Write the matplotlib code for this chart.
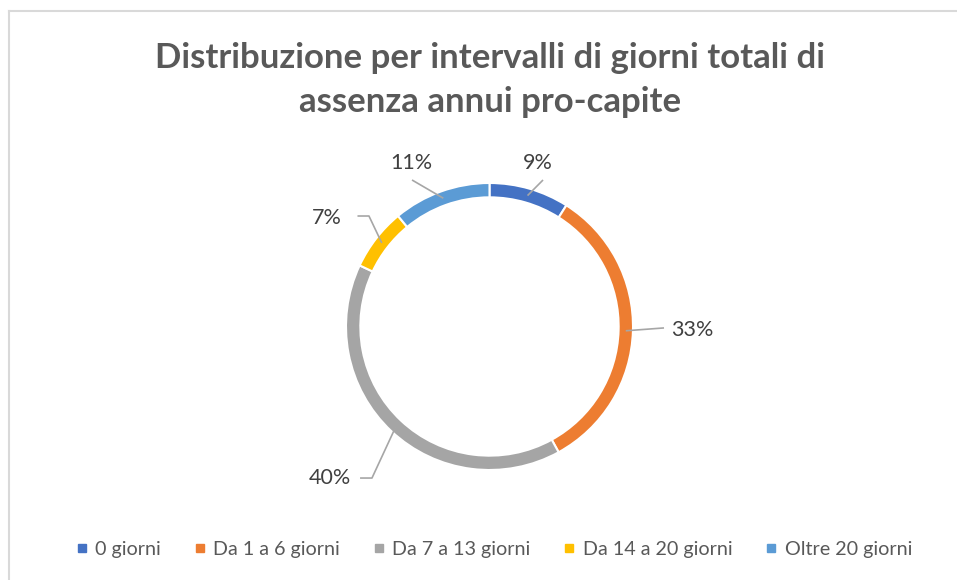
import numpy as np
import matplotlib
matplotlib.use("Agg")
import matplotlib.pyplot as plt
from matplotlib.lines import Line2D

# ── Data ──────────────────────────────────────────────────────────────────────
categories = ["0 giorni", "Da 1 a 6 giorni", "Da 7 a 13 giorni",
              "Da 14 a 20 giorni", "Oltre 20 giorni"]
values = [9, 33, 40, 7, 11]
colors = ["#4472C4", "#ED7D31", "#A5A5A5", "#FFC000", "#5B9BD5"]

title_lines = ["Distribuzione per intervalli di giorni totali di",
               "assenza annui pro-capite"]

# label layout (text position, knee of leader line, optional horizontal stub end)
label_pos = [(0.338, 1.139), (1.411, -0.024), (-1.111, -1.056),
             (-1.132, 0.756), (-0.547, 1.139)]
label_knee = [(0.373, 1.021), (1.216, -0.010), (-0.819, -1.056),
              (-0.840, 0.770), (-0.540, 1.021)]
label_stub = [None, None, (-0.902, -1.056), (-0.920, 0.770), None]

plt.rcParams['font.family'] = ['Lato', 'DejaVu Sans']

W, H = 957, 580
fig = plt.figure(figsize=(W / 100, H / 100), dpi=100)

# chart border (top + left visible)
fig.add_artist(Line2D([9 / W, 1], [1 - 11 / H, 1 - 11 / H], color="#D9D9D9", lw=1.5))
fig.add_artist(Line2D([9 / W, 9 / W], [0, 1 - 11 / H], color="#D9D9D9", lw=1.5))

# axes so that centre sits at (489.5, 326.5) px and radius = 143.5 px
a = 1.6
size = 2 * a * 143.5
cx, cy = 489.5, H - 326.5
ax = fig.add_axes([(cx - size / 2) / W, (cy - size / 2) / H, size / W, size / H])

wedges, _ = ax.pie(values, colors=colors, startangle=90, counterclock=False,
                   radius=1.0,
                   wedgeprops=dict(width=0.1, edgecolor='white', linewidth=1.5))
ax.set_xlim(-a, a)
ax.set_ylim(-a, a)
ax.axis('off')

total = sum(values)
cum = 0
for i, v in enumerate(values):
    mid = 90 - 360 * (cum + v / 2) / total
    cum += v
    r = 0.95
    px, py = r * np.cos(np.radians(mid)), r * np.sin(np.radians(mid))
    kx, ky = label_knee[i]
    xs, ys = [px, kx], [py, ky]
    if label_stub[i] is not None:
        xs.append(label_stub[i][0])
        ys.append(label_stub[i][1])
    ax.plot(xs, ys, color="#A6A6A6", lw=1.2, solid_capstyle='butt', zorder=3)
    tx, ty = label_pos[i]
    ax.text(tx, ty, f"{v}%", ha='center', va='center', fontsize=15.5,
            color="#404040")

for k, line in enumerate(title_lines):
    fig.text(490 / W, 1 - (58 + 44 * k) / H, line, ha='center', va='center',
             fontsize=25, fontweight='bold', color="#595959")

handles = [Line2D([], [], marker='s', linestyle='none', markersize=6,
                  markerfacecolor=c, markeredgecolor=c) for c in colors]
fig.legend(handles, categories, loc='center', bbox_to_anchor=(494 / W, 1 - 549 / H),
           ncol=5, frameon=False, fontsize=14.2, labelcolor="#595959",
           handlelength=0.6, handletextpad=0.4, columnspacing=1.65)

fig.savefig("out.png", dpi=100, facecolor='white')
